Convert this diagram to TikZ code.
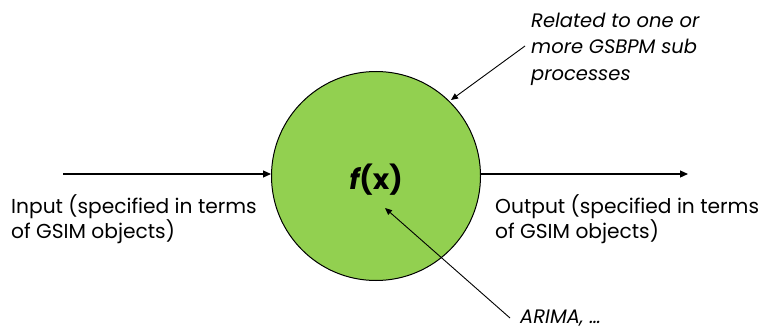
\documentclass[tikz,border=0pt]{standalone}
\usepackage{fontspec}
\setmainfont{Poppins}
\usetikzlibrary{arrows.meta}
\definecolor{fgreen}{HTML}{92D050}
\begin{document}
\begin{tikzpicture}[x=1pt,y=-1pt,
  lbl/.style={inner sep=0pt,anchor=base west,align=left,font=\fontsize{20.2}{25}\selectfont},
  conn/.style={draw=black,line width=1.2pt,-{Triangle[length=8pt,width=7pt]}},
  thin/.style={draw=black,line width=0.9pt,-{Triangle[length=7pt,width=6pt]}}]
\useasboundingbox (0,0) rectangle (765,329);
\node[circle,draw=black,line width=1pt,fill=fgreen,minimum size=209pt,inner sep=0pt] (fx) at (376,176) {};
\node[inner sep=0pt,anchor=base] (fxt) at (376,189) {\fontsize{28}{30}\selectfont\bfseries\itshape f\upshape(x)};
\coordinate (inS) at (63,174);
\coordinate (outE) at (688,174);
\draw[conn] (inS) -- (fx.west |- inS);
\draw[conn] (fx.east |- outE) -- (outE);
\node[lbl] (inL) at (11,238) {Input (specified in terms\\of GSIM objects)};
\node[lbl] (outL) at (495,238) {Output (specified in terms\\of GSIM objects)};
\node[lbl,font=\fontsize{19.5}{26}\selectfont\itshape] (rel) at (531,80) {Related to one or\\more GSBPM sub\\processes};
\node[lbl,font=\fontsize{19.5}{25}\selectfont\itshape] (ari) at (520,323) {ARIMA, \dots};
\coordinate (relS) at (525,46);
\coordinate (relE) at (451,100);
\draw[thin] (relS) -- (relE);
\coordinate (ariS) at (510,318);
\coordinate (ariE) at (385,208);
\draw[thin] (ariS) -- (ariE);
\end{tikzpicture}
\end{document}
